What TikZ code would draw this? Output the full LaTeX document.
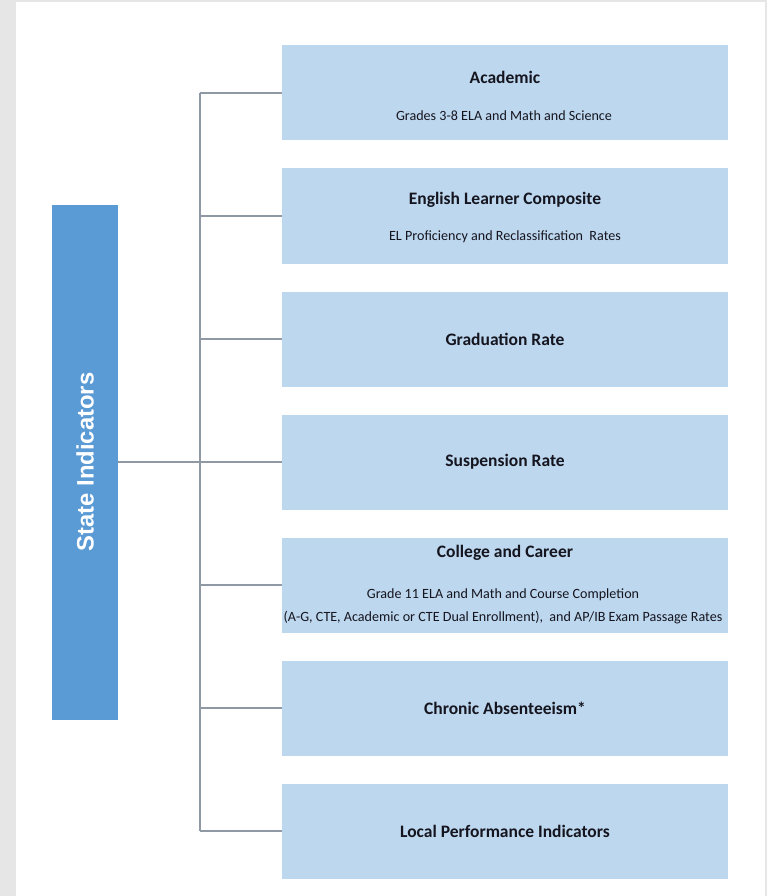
\documentclass[tikz,border=0pt]{standalone}
\usepackage{fontspec}
\setmainfont{Carlito}
\newfontfamily\arialfont{Liberation Sans}
\definecolor{framegray}{HTML}{E6E6E6}
\definecolor{barblue}{HTML}{5B9BD5}
\definecolor{boxblue}{HTML}{BDD7EE}
\definecolor{linegray}{HTML}{8E99A4}
\definecolor{txt}{HTML}{15151F}
\begin{document}
\begin{tikzpicture}[x=1pt,y=-1pt,
  bar/.style={fill=barblue, draw=none, minimum width=66pt, minimum height=515pt, inner sep=0pt},
  itembox/.style={fill=boxblue, draw=none, minimum width=446pt, minimum height=95pt, inner sep=0pt},
  ttl/.style={text=txt, font=\fontsize{17.5}{20}\selectfont\bfseries, inner sep=0pt},
  sub/.style={text=txt, font=\fontsize{14.1}{23}\selectfont, inner sep=0pt, align=center},
  conn/.style={draw=linegray, line width=2pt}]
\useasboundingbox (0,0) rectangle (767,896);
\fill[framegray] (0,0) rectangle (767,896);
\fill[white] (16,2) rectangle (765,896);

\node[bar] (bar) at (85,462) {};
\node[rotate=90, text=white, font=\arialfont\fontsize{23.8}{26}\selectfont\bfseries, inner sep=0pt] (barlabel) at (bar.center) {State Indicators};

\foreach \i/\y in {1/93,2/216,3/339,4/462,5/585,6/708,7/831}{
  \node[itembox] (b\i) at (505,\y) {};
  \coordinate (v\i) at (200,\y);
}

\node[ttl] (t1) at (505,77) {Academic};
\node[sub] (s1) at (504,116) {Grades 3-8 ELA and Math and Science};
\node[ttl] (t2) at (505,200) {English Learner Composite};
\node[sub] (s2) at (505,237) {EL Proficiency and Reclassification\ \ Rates};
\node[ttl] (t3) at (505,339) {Graduation Rate};
\node[ttl] (t4) at (505,462) {Suspension Rate};
\node[ttl] (t5) at (505,553) {College and Career};
\node[sub] (s5) at (503,606.5) {Grade 11 ELA and Math and Course Completion\\(A-G, CTE, Academic or CTE Dual Enrollment),\ \ and AP/IB Exam Passage Rates};
\node[ttl] (t6) at (505,708) {Chronic Absenteeism*};
\node[ttl] (t7) at (505,831) {Local Performance Indicators};

\draw[conn] (v1) -- (v7);
\foreach \i in {1,2,3,5,6,7}{
  \draw[conn] (v\i) -- (b\i.west);
}
\draw[conn] (bar.east) -- (b4.west);
\end{tikzpicture}
\end{document}
